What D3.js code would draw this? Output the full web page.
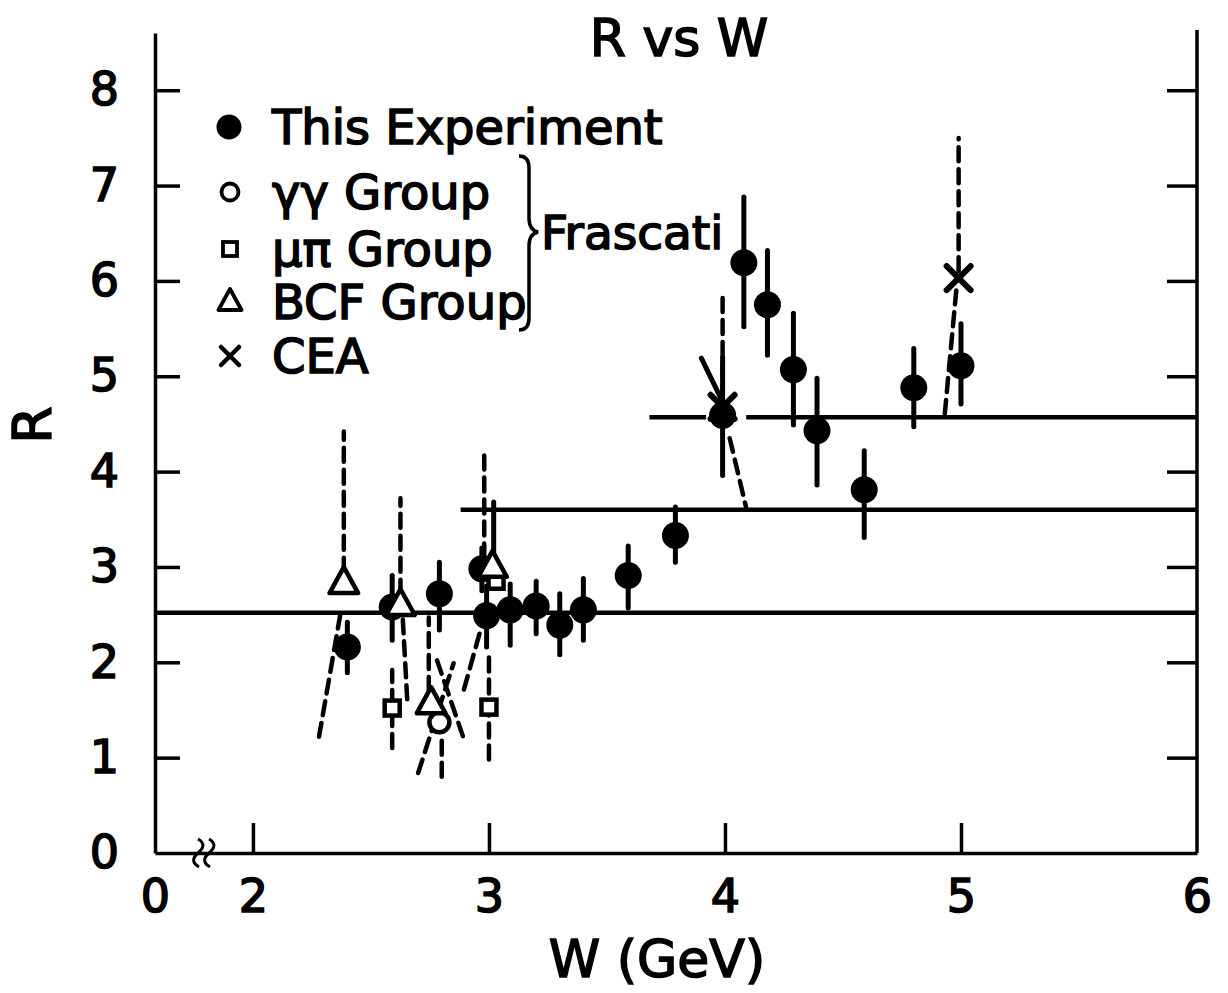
<!DOCTYPE html>
<html><head><meta charset="utf-8">
<script src="https://cdn.jsdelivr.net/npm/d3@7"></script>
<style>
body{margin:0;background:#fff}
svg{display:block;background:#fff}
text{font-family:"DejaVu Sans",sans-serif;fill:#000}
</style>
</head><body>
<svg id="c" width="1228" height="993"></svg>
<script>
// ---------- data ----------
const title = "R vs W";
const xLabel = "W (GeV)";
const yLabel = "R";
const xTickValues = [1.585, 2, 3, 4, 5, 6];
const xTickLabels = ["0", "2", "3", "4", "5", "6"];
const yTickValues = [0, 1, 2, 3, 4, 5, 6, 7, 8];
const yTickLabels = ["0", "1", "2", "3", "4", "5", "6", "7", "8"];

// This Experiment (filled circles): W, R, lower, upper
const thisW  = [2.40, 2.59, 2.79, 2.97, 2.99, 3.09, 3.20, 3.30, 3.40, 3.59, 3.79, 3.99, 4.08, 4.18, 4.29, 4.39, 4.59, 4.80, 5.00];
const thisR  = [2.16, 2.58, 2.72, 2.98, 2.49, 2.55, 2.59, 2.39, 2.55, 2.91, 3.33, 4.59, 6.19, 5.75, 5.07, 4.43, 3.81, 4.88, 5.11];
const thisLo = [1.89, 2.23, 2.34, 2.75, 2.16, 2.18, 2.30, 2.08, 2.23, 2.57, 3.05, 3.96, 5.52, 5.22, 4.49, 3.86, 3.31, 4.47, 4.71];
const thisHi = [2.42, 2.91, 3.05, 3.20, 2.80, 2.82, 2.85, 2.72, 2.88, 3.22, 3.63, 5.20, 6.88, 6.32, 5.66, 4.98, 4.22, 5.29, 5.55];

// Frascati groups and CEA
const ggW = [2.79];               const ggR = [1.37];
const mpW = [2.59, 3.00, 3.03];   const mpR = [1.52, 1.53, 2.85];
const bcfW = [2.385, 2.625, 2.755, 3.015]; const bcfR = [2.83, 2.60, 1.57, 3.00];
const ceaW = [3.99, 4.99];        const ceaR = [4.68, 6.03];

// dashed error bars of other experiments: [W1, R1, W2, R2]
const dashedBars = [
  [2.385, 2.95, 2.385, 4.42],
  [2.37, 2.50, 2.28, 1.22],
  [2.625, 2.72, 2.625, 3.72],
  [2.635, 2.45, 2.655, 1.55],
  [2.59, 1.10, 2.59, 1.92],
  [2.745, 1.70, 2.745, 2.47],
  [2.70, 0.84, 2.85, 1.99],
  [2.78, 2.02, 2.90, 1.15],
  [2.80, 0.80, 2.80, 1.25],
  [2.98, 3.10, 2.98, 4.17],
  [2.96, 2.30, 2.89, 1.68],
  [3.00, 0.98, 3.00, 2.05],
  [3.99, 4.75, 3.99, 5.82],
  [4.02, 4.35, 4.09, 3.62],
  [4.99, 6.10, 4.99, 7.50],
  [4.98, 5.90, 4.93, 4.57]
];
// solid segments belonging to other experiments
const solidBars = [
  [3.90, 5.19, 4.00, 4.68],
  [3.02, 3.05, 3.02, 3.68]
];
// horizontal reference levels: R, W start, W end
const levelR  = [2.52, 3.60, 4.57, 4.57];
const levelW0 = [1.585, 2.88, 3.68, 4.09];
const levelW1 = [6.00, 6.00, 3.92, 6.00];

const legendLabels = ["This Experiment", "\u03b3\u03b3 Group", "\u03bc\u03c0 Group", "BCF Group", "CEA"];
const bracketLabel = "Frascati";

// ---------- drawing ----------
const svg = d3.select("#c");
const x = d3.scaleLinear().domain([1.585, 6]).range([155, 1197]);
const y = d3.scaleLinear().domain([0, 8.6]).range([853, 33]);
const ink = "#000";
const textStroke = 1.6;

// axes
const gL = svg.append("g").attr("transform", `translate(${x(1.585)},0)`)
  .call(d3.axisLeft(y).tickValues(yTickValues).tickFormat((d,i)=>yTickLabels[i])
        .tickSizeInner(-25).tickSizeOuter(0).tickPadding(36));
const gR = svg.append("g").attr("transform", `translate(${x(6)},0)`)
  .call(d3.axisRight(y).tickValues(yTickValues.slice(1)).tickFormat("")
        .tickSizeInner(-30).tickSizeOuter(0));
const yTop = d3.scaleLinear().domain([0, 8.6]).range([853, 30]);
gR.select(".domain").attr("d", `M0,${y(0)}V${yTop(8.6)}`);
const gB = svg.append("g").attr("transform", `translate(0,${y(0)})`)
  .call(d3.axisBottom(x).tickValues(xTickValues).tickFormat((d,i)=>xTickLabels[i])
        .tickSizeInner(-30).tickSizeOuter(0).tickPadding(26));
gB.selectAll(".tick line").filter(d => d < 1.9 || d > 5.9).remove();
gL.selectAll(".tick line").filter(d => d === 0).remove();

[gL, gR, gB].forEach(g => {
  g.attr("font-family", "DejaVu Sans").attr("font-size", 46);
  g.selectAll("path,line").attr("stroke", ink).attr("stroke-width", 3.5);
  g.selectAll("text").attr("fill", ink).attr("stroke", ink).attr("stroke-width", textStroke);
});

// axis break symbol
[-5, 6].forEach(dx => {
  const cx = 205 + dx;
  svg.append("path")
    .attr("d", `M${cx-2},${y(0)-14} c7,4 6,9 0,14 c-6,5 -6,10 1,14`)
    .attr("fill", "none").attr("stroke", ink).attr("stroke-width", 3);
});

// horizontal levels
svg.append("g").selectAll("line").data(levelR).join("line")
  .attr("x1", (d,i)=>x(levelW0[i])).attr("x2", (d,i)=>x(levelW1[i]))
  .attr("y1", d=>y(d)).attr("y2", d=>y(d))
  .attr("stroke", ink).attr("stroke-width", 4.5);

// dashed error bars
svg.append("g").selectAll("line").data(dashedBars).join("line")
  .attr("x1", d=>x(d[0])).attr("y1", d=>y(d[1]))
  .attr("x2", d=>x(d[2])).attr("y2", d=>y(d[3]))
  .attr("stroke", ink).attr("stroke-width", 4.5)
  .attr("stroke-dasharray", "14,8").attr("stroke-linecap", "round");
svg.append("g").selectAll("line").data(solidBars).join("line")
  .attr("x1", d=>x(d[0])).attr("y1", d=>y(d[1]))
  .attr("x2", d=>x(d[2])).attr("y2", d=>y(d[3]))
  .attr("stroke", ink).attr("stroke-width", 5).attr("stroke-linecap", "round");

// this experiment error bars and points
const pts = thisW.map((w,i)=>({w, r:thisR[i], lo:thisLo[i], hi:thisHi[i]}));
svg.append("g").selectAll("line").data(pts).join("line")
  .attr("x1", d=>x(d.w)).attr("x2", d=>x(d.w))
  .attr("y1", d=>y(d.lo)).attr("y2", d=>y(d.hi))
  .attr("stroke", ink).attr("stroke-width", 5).attr("stroke-linecap", "round");
svg.append("g").selectAll("circle").data(pts).join("circle")
  .attr("cx", d=>x(d.w)).attr("cy", d=>y(d.r)).attr("r", 13.5).attr("fill", ink);

// marker symbols
const triPath = s => `M0,${-s*0.62} L${s*0.55},${s*0.38} L${-s*0.55},${s*0.38} Z`;
function drawTri(g, cx, cy, s, sw) {
  g.append("path").attr("transform", `translate(${cx},${cy})`).attr("d", triPath(s))
    .attr("fill", "#fff").attr("stroke", ink).attr("stroke-width", sw).attr("stroke-linejoin", "round");
}
function drawSq(g, cx, cy, s, sw) {
  g.append("rect").attr("x", cx-s/2).attr("y", cy-s/2).attr("width", s).attr("height", s)
    .attr("fill", "#fff").attr("stroke", ink).attr("stroke-width", sw);
}
function drawOc(g, cx, cy, r, sw) {
  g.append("circle").attr("cx", cx).attr("cy", cy).attr("r", r)
    .attr("fill", "#fff").attr("stroke", ink).attr("stroke-width", sw);
}
function drawX(g, cx, cy, s, sw) {
  g.append("path").attr("d", `M${cx-s},${cy-s}L${cx+s},${cy+s}M${cx+s},${cy-s}L${cx-s},${cy+s}`)
    .attr("stroke", ink).attr("stroke-width", sw).attr("stroke-linecap", "round");
}
const gm = svg.append("g");
mpW.forEach((w,i)=>drawSq(gm, x(w), y(mpR[i]), 15, 4.5));
ggW.forEach((w,i)=>drawOc(gm, x(w), y(ggR[i]), 10, 4.5));
bcfW.forEach((w,i)=>drawTri(gm, x(w), y(bcfR[i]), 26, 4.5));
ceaW.forEach((w,i)=>drawX(gm, x(w), y(ceaR[i]), 12, 6));

// title and axis labels
const thick = sel => sel.attr("stroke", ink).attr("stroke-width", textStroke);
thick(svg.append("text").attr("x", 679).attr("y", 56).attr("text-anchor", "middle")
  .attr("font-size", 52).text(title));
thick(svg.append("text").attr("x", 657).attr("y", 977).attr("text-anchor", "middle")
  .attr("font-size", 52).text(xLabel));
thick(svg.append("text").attr("transform", "translate(32,425) rotate(-90)")
  .attr("text-anchor", "middle").attr("dy", "0.36em")
  .attr("font-size", 54).text(yLabel));

// legend
const legY = [127, 192, 249, 302, 356];
const lg = svg.append("g");
lg.append("circle").attr("cx", 229).attr("cy", legY[0]).attr("r", 12.5).attr("fill", ink);
drawOc(lg, 230, legY[1], 8.5, 3.8);
drawSq(lg, 230, legY[2], 14, 3.8);
drawTri(lg, 230, legY[3], 21, 3.8);
drawX(lg, 230, legY[4], 9, 4.5);
lg.selectAll("text").data(legendLabels).join("text")
  .attr("x", 272).attr("y", (d,i)=>legY[i] + 17)
  .attr("font-size", 48).attr("stroke", ink).attr("stroke-width", textStroke)
  .text(d=>d);

// brace and Frascati
lg.append("path")
  .attr("d", "M519,156 q10,0 10,12 L529,218 q0,12 9,14 q-9,2 -9,14 L529,318 q0,12 -10,12")
  .attr("fill", "none").attr("stroke", ink).attr("stroke-width", 3.5);
thick(lg.append("text").attr("x", 541).attr("y", 249).attr("font-size", 47).text(bracketLabel));
</script>
</body></html>
